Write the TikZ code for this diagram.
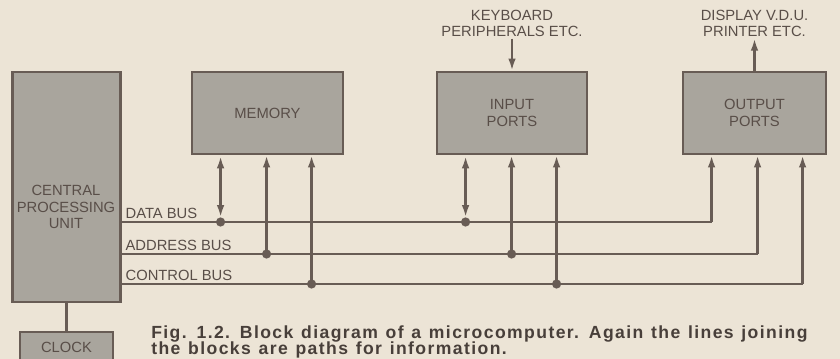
\documentclass[tikz,border=0pt]{standalone}
\usepackage{fontspec}
\setmainfont{Liberation Sans}
\usepackage{tikz}
\usetikzlibrary{positioning,arrows.meta,calc}
\definecolor{paper}{HTML}{ECE4D6}
\definecolor{boxfill}{HTML}{A9A59D}
\definecolor{edge}{HTML}{685C55}
\definecolor{ink}{HTML}{594E48}
\definecolor{capink}{HTML}{483F3A}
\newcommand\capfont{\fontsize{12.5}{11.5}\selectfont\bfseries
  \addfontfeature{LetterSpace=8}\spaceskip=5.5pt\relax
  \lineskiplimit=-20pt\relax}

\begin{document}
\begin{tikzpicture}[x=0.025cm,y=-0.025cm,
  font=\fontsize{10.5}{11.5}\selectfont,
  blk/.style={draw=edge,fill=boxfill,line width=2pt,inner sep=0pt,
              text=ink,align=center},
  lbl/.style={text=ink,align=center,inner sep=1pt},
  bus/.style={draw=edge,line width=1.6pt},
  arr/.style={bus,-{Latex[length=3mm,width=1.9mm]}},
  darr/.style={bus,{Latex[length=3mm,width=1.9mm]}-{Latex[length=3mm,width=1.9mm]}},
  jn/.style={circle,fill=edge,inner sep=0pt,minimum size=2.3mm}]
% sfondo
\fill[paper] (0,0) rectangle (840,359);
\useasboundingbox (0,0) rectangle (840,359);
\clip (0,0) rectangle (840,359);
% blocchi
\node[blk,minimum width=2.7cm,minimum height=5.75cm] (cpu) at (66.5,187) {};
\node[lbl] (cputxt) at (66,207) {CENTRAL\\PROCESSING\\UNIT};
\node[blk,minimum width=2.325cm,minimum height=0.75cm] (clk) at (66.5,347) {CLOCK};
\node[blk,minimum width=3.775cm,minimum height=2.05cm] (mem) at (267.5,113) {MEMORY};
\node[blk,minimum width=3.75cm,minimum height=2.05cm] (inp) at (512,113) {INPUT\\PORTS};
\node[blk,minimum width=3.575cm,minimum height=2.05cm] (out) at (754.5,113) {OUTPUT\\PORTS};
% periferiche
\node[lbl,above=8mm of inp] (kbd) {KEYBOARD\\PERIPHERALS ETC.};
\node[lbl,above=8mm of out] (vdu) {DISPLAY V.D.U.\\PRINTER ETC.};
\draw[arr] (kbd) -- (inp);
\draw[arr] (out) -- (vdu);
\draw[bus] (cpu) -- (clk);
% bus
\coordinate (d0) at (cpu.east |- 0,222);
\coordinate (a0) at (cpu.east |- 0,254);
\coordinate (c0) at (cpu.east |- 0,284);
\node[lbl,anchor=south west] (dlbl) at ($(d0)+(2,-2)$) {DATA BUS};
\node[lbl,anchor=south west] (albl) at ($(a0)+(2,-2)$) {ADDRESS BUS};
\node[lbl,anchor=south west] (clbl) at ($(c0)+(2,-2)$) {CONTROL BUS};
\foreach \b in {mem,inp,out}{
  \coordinate (\b d) at ($(\b.south west)+(30,0)$);
  \coordinate (\b a) at ($(\b.south west)+(76,0)$);
  \coordinate (\b c) at ($(\b.south west)+(121,0)$);
}
\draw[bus] (d0) -- (outd |- d0);
\draw[bus] (a0) -- (outa |- a0);
\draw[bus] (c0) -- (outc |- c0);
% prese sul bus
\foreach \b in {mem,inp}{
  \node[jn] (\b dj) at (\b d |- d0) {};
  \node[jn] (\b aj) at (\b a |- a0) {};
  \node[jn] (\b cj) at (\b c |- c0) {};
  \draw[darr,shorten <=0.6pt] (\b d) -- (\b dj.north);
  \draw[arr] (\b aj.center) -- (\b a);
  \draw[arr] (\b cj.center) -- (\b c);
}
\draw[arr] (outd |- d0) -- (outd);
\draw[arr] (outa |- a0) -- (outa);
\draw[arr] (outc |- c0) -- (outc);
% didascalia
\node[anchor=north west,inner sep=0pt,align=left,text=capink,
      font=\capfont] (cap) at (151,325)
  {Fig. 1.2. Block diagram of a microcomputer. Again the lines joining\\
   the blocks are paths for information.};
\end{tikzpicture}
\end{document}
